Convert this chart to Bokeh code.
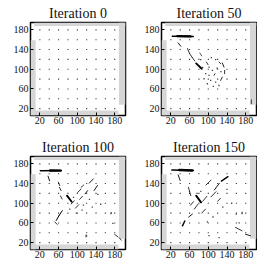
from bokeh.plotting import figure
from bokeh.layouts import column, row
from bokeh.models import FixedTicker, Range1d
from bokeh.embed import file_html
from bokeh.resources import INLINE

# ---------------- data ----------------
titles = ["Iteration 0", "Iteration 50", "Iteration 100", "Iteration 150"]
tick_values = [20, 60, 100, 140, 180]
grid_x = [20, 40, 60, 80, 100, 120, 140, 160, 180]
grid_y = [20, 40, 60, 80, 100, 120, 140, 160, 180]
x_lim = [0, 203]
y_lim = [6, 195]

# grey background mask strips of the image: left, right, bottom, top
mask_x0 = [0, 189, 0, 8]
mask_x1 = [11, 203, 188, 203]
mask_y0 = [6, 28, 6, 188]
mask_y1 = [159, 195, 16, 195]

# displacement strokes (x0, y0, x1, y1, width) per iteration
strokes_0 = []
dots_0_x = []
dots_0_y = []

strokes_50 = [
    (23, 167, 68, 166.5, 1.4), (34, 167.3, 62, 166.8, 2.4),
    (35.6, 153.5, 41.3, 146.7, 0.9),
    (55.5, 142, 60, 132, 0.8), (60, 132, 66, 123.5, 0.8), (66, 123.5, 71, 117, 0.8),
    (74, 112, 86, 101, 1.8),
    (95.9, 114.7, 99.4, 109.3, 0.8), (122.8, 114.7, 126.4, 111.3, 0.8),
    (129.9, 112.7, 133.5, 104.5, 0.9), (134.9, 97.7, 134.9, 90.9, 0.8),
    (129.9, 84, 126.4, 77.3, 0.8), (114.3, 90.9, 112.2, 87.5, 0.8),
    (82, 133, 86, 127, 0.7), (192, 38, 192, 30, 0.7),
]
dots_50_x = [83.8, 106.5, 115.7, 101.6, 108.7, 101.6, 94.5, 90.9, 105, 115.7, 122.8, 110.8, 98, 88, 119, 127]
dots_50_y = [119.5, 123.5, 119.5, 104.5, 97.7, 87.5, 90.9, 80.7, 77.3, 73.9, 67, 65, 70.5, 104, 102, 95]

strokes_100 = [
    (21, 166, 66, 166.4, 1.4), (42, 166.5, 64, 166.2, 2.4),
    (37.5, 155, 40.8, 145.5, 0.9),
    (59.7, 142.6, 62.5, 135.8, 0.8), (61.8, 132.4, 65.4, 125.6, 0.8),
    (64, 115, 67.5, 108.6, 0.8),
    (78, 115.4, 88, 103, 1.9),
    (125.7, 141, 134.2, 149.4, 0.9), (136, 126, 143, 136, 0.9),
    (108, 132.4, 113.6, 137, 0.8), (101, 122, 108, 129, 0.8),
    (116.5, 119, 122, 125.6, 0.9), (86.7, 98.4, 93.8, 105, 0.8),
    (105, 108, 111, 114, 0.8), (96, 90, 103, 97, 0.8),
    (68, 85, 61, 75, 1.0), (61, 75, 55, 65, 1.0),
    (52, 62, 57, 57, 0.8),
    (180, 36.5, 186.7, 31.7, 0.8), (190, 29.7, 194, 25, 0.8),
    (118.6, 31.5, 118.6, 35.5, 0.8),
]
dots_100_x = [172, 172.5, 120, 176, 84, 92, 126, 113, 98, 132, 144, 110, 150]
dots_100_y = [79, 81, 33.7, 59, 88, 112, 108, 96, 80, 92, 118, 86, 98]

strokes_150 = [
    (22, 167.5, 68, 166.4, 1.4), (38, 167.6, 66, 166.6, 2.4),
    (35.6, 157.6, 39.9, 146, 0.9),
    (57.6, 132.4, 60, 124, 0.8), (60, 124, 62.6, 115.4, 0.8),
    (74, 115.4, 84.5, 101.8, 1.9),
    (128, 145, 142, 154, 1.4),
    (95, 137, 105.8, 147, 0.8), (113, 127, 123.5, 140.5, 0.9),
    (105.8, 113, 116.5, 123.5, 0.8), (88, 104, 97, 114, 0.8),
    (70, 88, 78, 98, 0.8), (86, 80, 94, 88, 0.8),
    (58, 72, 66, 78, 0.9), (44.8, 54, 49.8, 64, 1.4),
    (62, 96, 68, 103, 0.8), (120, 104, 126, 110, 0.8),
    (158, 51, 172, 44, 0.8), (179.6, 37, 190, 34, 0.9),
]
dots_150_x = [172.5, 172, 101.6, 123, 150, 160, 131, 84, 140, 166, 110, 76, 98]
dots_150_y = [81.4, 79, 34, 30, 100, 78, 92, 124, 128, 60, 72, 120, 62]

panels = [
    (strokes_0, dots_0_x, dots_0_y),
    (strokes_50, dots_50_x, dots_50_y),
    (strokes_100, dots_100_x, dots_100_y),
    (strokes_150, dots_150_x, dots_150_y),
]

SERIF = "Liberation Serif"


def make_panel(i):
    strokes, dx, dy = panels[i]
    left_col = (i % 2 == 0)
    top_row = (i < 2)
    frame_w = 95
    frame_h = 93
    b_left = 30
    b_right = 6 if left_col else 1
    b_top = 22 if top_row else 20
    b_bottom = 21 if top_row else 13
    p = figure(width=b_left + frame_w + b_right, height=b_top + frame_h + b_bottom,
               x_range=Range1d(*x_lim), y_range=Range1d(*y_lim),
               output_backend="svg", toolbar_location=None,
               min_border_left=b_left, min_border_right=b_right,
               min_border_top=b_top, min_border_bottom=b_bottom,
               title=titles[i])
    p.title.text_font = SERIF
    p.title.text_font_size = "14px"
    p.title.text_font_style = "normal"
    p.title.align = "center"
    p.title.standoff = 3
    p.title.text_color = "#111111"
    p.background_fill_color = "white"
    p.border_fill_color = "white"
    p.outline_line_color = "black"
    p.outline_line_width = 1.5
    p.xgrid.visible = False
    p.ygrid.visible = False
    for ax in (p.xaxis[0], p.yaxis[0]):
        ax.ticker = FixedTicker(ticks=tick_values)
        ax.major_tick_in = 3
        ax.major_tick_out = 0
        ax.minor_tick_line_color = None
        ax.axis_line_color = None
        ax.major_label_text_font = SERIF
        ax.major_label_text_font_size = "10px"
        ax.major_label_text_color = "#111111"
        ax.major_label_standoff = 2
    p.xaxis[0].major_label_standoff = 1

    p.quad(left=mask_x0, right=mask_x1, bottom=mask_y0, top=mask_y1,
           fill_color="#d6d6d6", line_color=None)

    gx = [x for y in grid_y for x in grid_x]
    gy = [y for y in grid_y for x in grid_x]
    p.scatter(gx, gy, marker="square", size=1.1, fill_color="#333333", line_color=None)

    if strokes:
        p.segment(x0=[s[0] for s in strokes], y0=[s[1] for s in strokes],
                  x1=[s[2] for s in strokes], y1=[s[3] for s in strokes],
                  line_width=[s[4] for s in strokes], line_color="black", line_cap="round")
    if dx:
        p.scatter(dx, dy, marker="square", size=1.3, fill_color="#444444", line_color=None)
    return p


figs = [make_panel(i) for i in range(4)]
layout = column(row(figs[0], figs[1]), row(figs[2], figs[3]))

with open("out.html", "w") as f:
    f.write(file_html(layout, INLINE))
